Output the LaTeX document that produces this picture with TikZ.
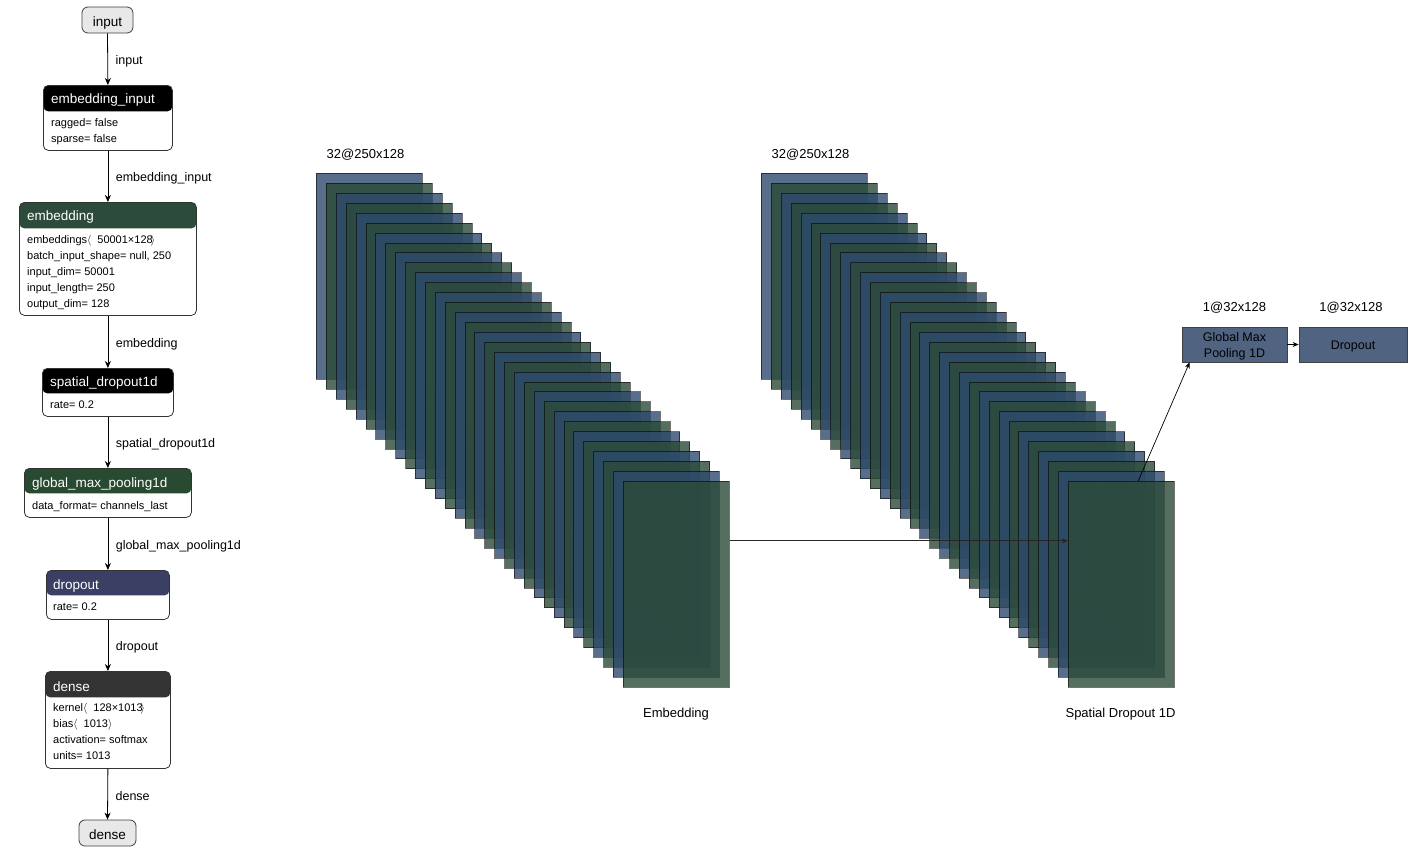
\documentclass[tikz,border=0pt]{standalone}
\usepackage{fontspec}
\setmainfont{Liberation Sans}
\usetikzlibrary{arrows.meta}
\definecolor{stackblue}{HTML}{2E4A6E}
\definecolor{stackgreen}{HTML}{2C4A38}
\definecolor{hdrgreen}{HTML}{2D4B3B}
\definecolor{hdrgreentwo}{HTML}{284A30}
\definecolor{hdrnavy}{HTML}{3B3F63}
\definecolor{hdrgray}{HTML}{333333}
\definecolor{boxblue}{HTML}{506482}
\definecolor{termgray}{HTML}{E8E8E8}
\tikzset{
  arr/.style={draw=black, line width=0.8pt, -{Stealth[length=7pt,width=6pt]}},
  arrsmall/.style={draw=black, line width=0.7pt, -{Stealth[length=6pt,width=5pt]}},
  layerbox/.style={draw=black!80, line width=0.8pt, rounded corners=5pt, fill=white,
    inner sep=0pt, anchor=north west},
  hdr/.style 2 args={path picture={\fill[#1] (path picture bounding box.north west)
    rectangle ([yshift=-#2]path picture bounding box.north east);}},
  termbox/.style={draw=black!75, line width=0.8pt, rounded corners=6pt, fill=termgray,
    inner sep=0pt, text height=12pt, text depth=0pt, font=\fontsize{13.5}{16}\selectfont},
  hdrtxt/.style={text=white, anchor=west, inner sep=0pt, yshift=-2pt, font=\fontsize{13.5}{16}\selectfont},
  bodytxt/.style={text=black, anchor=west, inner sep=0pt, text height=7.5pt, text depth=2.5pt,
    yshift=-1pt, font=\fontsize{11}{13}\selectfont},
  lbl/.style={anchor=west, inner sep=0pt, yshift=-2pt, font=\fontsize{12.5}{15}\selectfont},
  captxt/.style={inner sep=0pt, yshift=-2pt, font=\fontsize{13}{16}\selectfont},
  boxtxt/.style={inner sep=0pt, yshift=-2pt, align=center, font=\fontsize{12.5}{16}\selectfont},
  stackrect/.style={draw=black, draw opacity=0.55, line width=0.8pt, fill opacity=0.8,
    minimum width=106pt, minimum height=206pt, inner sep=0pt, anchor=north west},
  flatbox/.style={draw=black!75, line width=0.8pt, fill=boxblue, inner sep=0pt},
}
\begin{document}
\begin{tikzpicture}[x=1pt,y=-1pt]
\useasboundingbox (0,0) rectangle (1426,855);

% ---------------- left column ----------------
\node[termbox, minimum width=51pt, minimum height=26pt] (input) at (107.5,20) {input};

\node[layerbox, minimum width=129pt, minimum height=65pt, hdr={black}{26pt}] (ei) at (43,85) {};
\node[hdrtxt] (eih) at (51,98) {embedding\_input};
\node[bodytxt] (eib1) at (51,123) {ragged= false};
\node[bodytxt] (eib2) at (51,139) {sparse= false};

\node[layerbox, minimum width=177pt, minimum height=113pt, hdr={hdrgreen}{26pt}] (emb) at (19,202) {};
\node[hdrtxt] (embh) at (27,215.5) {embedding};
\node[bodytxt] (embb1) at (27,240) {embeddings$\langle$\hspace{6pt}50001×128\hspace{-2pt}$\rangle$};
\node[bodytxt] (embb2) at (27,256) {batch\_input\_shape= null, 250};
\node[bodytxt] (embb3) at (27,272) {input\_dim= 50001};
\node[bodytxt] (embb4) at (27,288) {input\_length= 250};
\node[bodytxt] (embb5) at (27,304) {output\_dim= 128};

\node[layerbox, minimum width=131pt, minimum height=48pt, hdr={black}{25pt}] (sp) at (42,368) {};
\node[hdrtxt] (sph) at (50,381) {spatial\_dropout1d};
\node[bodytxt] (spb1) at (50,405) {rate= 0.2};

\node[layerbox, minimum width=167pt, minimum height=49pt, hdr={hdrgreentwo}{25pt}] (gmp) at (24,468) {};
\node[hdrtxt] (gmph) at (32,482) {global\_max\_pooling1d};
\node[bodytxt] (gmpb1) at (32,506) {data\_format= channels\_last};

\node[layerbox, minimum width=123pt, minimum height=49pt, hdr={hdrnavy}{25pt}] (dro) at (46,570) {};
\node[hdrtxt] (droh) at (53,583.5) {dropout};
\node[bodytxt] (drob1) at (53,607) {rate= 0.2};

\node[layerbox, minimum width=125pt, minimum height=97pt, hdr={hdrgray}{26pt}] (den) at (45,671) {};
\node[hdrtxt] (denh) at (53,684.5) {dense};
\node[bodytxt] (denb1) at (53,708) {kernel$\langle$\hspace{6pt}128×1013\hspace{-2pt}$\rangle$};
\node[bodytxt] (denb2) at (53,724) {bias$\langle$\hspace{6pt}1013$\rangle$};
\node[bodytxt] (denb3) at (53,740) {activation= softmax};
\node[bodytxt] (denb4) at (53,756) {units= 1013};

\node[termbox, minimum width=57pt, minimum height=26pt] (out) at (107.5,833) {dense};

\draw[arr] (input.south) -- node[lbl, xshift=7.5pt] (l1) {input} (ei.north);
\draw[arr] (ei.south) -- node[lbl, xshift=7.5pt] (l2) {embedding\_input} (emb.north);
\draw[arr] (emb.south) -- node[lbl, xshift=7.5pt] (l3) {embedding} (sp.north);
\draw[arr] (sp.south) -- node[lbl, xshift=7.5pt] (l4) {spatial\_dropout1d} (gmp.north);
\draw[arr] (gmp.south) -- node[lbl, xshift=7.5pt] (l5) {global\_max\_pooling1d} (dro.north);
\draw[arr] (dro.south) -- node[lbl, xshift=7.5pt] (l6) {dropout} (den.north);
\draw[arr] (den.south) -- node[lbl, xshift=7.5pt] (l7) {dense} (out.north);

% ---------------- stacks ----------------
\foreach \i in {0,...,31}{
  \ifodd\i \def\stc{stackgreen}\else\def\stc{stackblue}\fi
  \node[stackrect, fill=\stc] (e\i) at (316+9.9*\i, 173+9.93*\i) {};
}
\foreach \i in {0,...,31}{
  \ifodd\i \def\stc{stackgreen}\else\def\stc{stackblue}\fi
  \node[stackrect, fill=\stc] (s\i) at (761+9.9*\i, 173+9.93*\i) {};
}
\node[captxt] (ecap) at (365.5,153) {32@250x128};
\node[captxt] (scap) at (810.5,153) {32@250x128};
\node[captxt] (ename) at (676,712) {Embedding};
\node[captxt] (sname) at (1120.5,712) {Spatial Dropout 1D};

% ---------------- right boxes ----------------
\node[flatbox, minimum width=105pt, minimum height=35pt] (gb) at (1234.5,344.5) {};
\node[boxtxt] (gbt) at (gb.center) {Global Max\\Pooling 1D};
\node[flatbox, minimum width=108pt, minimum height=35pt] (db) at (1353,344.5) {};
\node[boxtxt] (dbt) at (db.center) {Dropout};
\node[captxt] (gcap) at (1234.5,306) {1@32x128};
\node[captxt] (dcap) at (1351,306) {1@32x128};

\draw[arrsmall, draw=black!85] ([yshift=-60pt]e31.north east) -- ([yshift=-60pt]s31.north west);
\draw[arrsmall] ([xshift=17pt]s31.north) -- ([xshift=8pt]gb.south west);
\draw[arrsmall] (gb.east) -- (db.west);
\end{tikzpicture}
\end{document}
